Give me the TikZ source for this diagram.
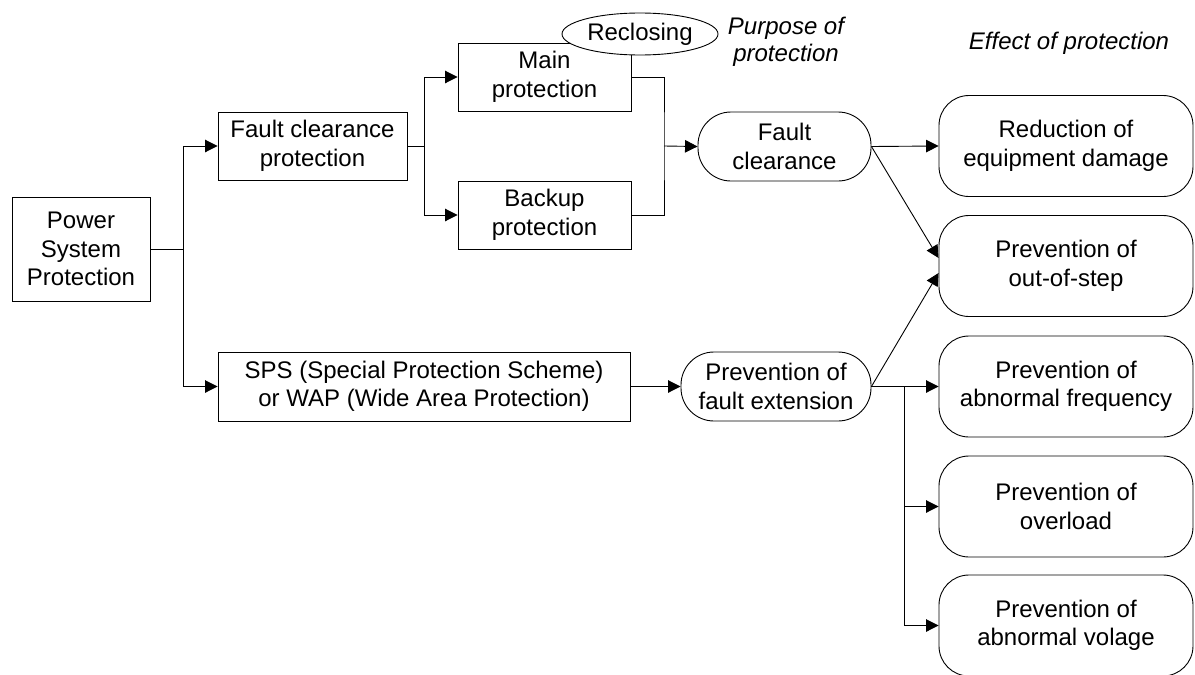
\documentclass[tikz,border=0pt]{standalone}
\usepackage{fontspec}
\setmainfont{Liberation Sans}
\usetikzlibrary{arrows.meta,shapes.geometric}
\begin{document}
\begin{tikzpicture}[x=1pt,y=-1pt,
  every node/.style={font=\fontsize{24}{28.5}\selectfont, align=center, inner sep=0pt},
  box/.style={draw, line width=0.9pt, rectangle},
  pill/.style={draw, line width=0.9pt, rectangle, rounded corners=33pt},
  effect/.style={draw, line width=0.9pt, rectangle, rounded corners=30pt,
                 minimum width=254pt, minimum height=101pt},
  note/.style={font=\itshape\fontsize{24}{27.5}\selectfont},
  link/.style={line width=0.9pt},
  arr/.style={link, -{Triangle[length=12.5pt,width=12.5pt]}}
]
\useasboundingbox (0,0) rectangle (1195,675);

% left side: root and the two protection branches
\node[box, minimum width=138pt, minimum height=104pt] (psp) at (81,249) {Power\\System\\Protection};
\node[box, minimum width=189pt, minimum height=68pt] (fcp) at (312.5,146) {Fault clearance\\protection};
\node[box, minimum width=412pt, minimum height=69pt] (sps) at (424,386.5)
  {SPS (Special Protection Scheme)\\or WAP (Wide Area Protection)};

% main and backup protection
\node[box, minimum width=173pt, minimum height=68pt] (main) at (544.5,77) {Main\\protection};
\node[box, minimum width=173pt, minimum height=68pt] (backup) at (544.5,215) {Backup\\protection};
\node[draw, line width=0.9pt, ellipse, fill=white, minimum width=156pt, minimum height=42pt]
  (reclose) at (640,34) {Reclosing};

% purposes
\node[note] (purpose) at (786,42) {Purpose of\\protection};
\node[pill, minimum width=173pt, minimum height=69pt] (fc) at (784.5,146.5) {Fault\\clearance};
\node[pill, minimum width=190pt, minimum height=69pt] (pfe) at (776,386.5) {Prevention of\\fault extension};

% effects
\node[note] (effect) at (1069,43) {Effect of protection};
\node[effect] (damage) at (1066,146) {Reduction of\\equipment damage};
\node[effect] (oos) at (1066,266) {Prevention of\\out-of-step};
\node[effect] (freq) at (1066,386.5) {Prevention of\\abnormal frequency};
\node[effect] (overload) at (1066,506.5) {Prevention of\\overload};
\node[effect] (volage) at (1066,625.5) {Prevention of\\abnormal volage};

% junction points
\coordinate (j1) at (183,249);
\coordinate (j2) at (424,146);
\coordinate (j3) at (664,146);
\coordinate (j4) at (904,386.5);

% connectors
\draw[link] (psp.east) -- (j1);
\draw[arr] (j1) |- (fcp.west);
\draw[arr] (j1) |- (sps.west);

\draw[link] (fcp.east) -- (j2);
\draw[arr] (j2) |- (main.west);
\draw[arr] (j2) |- (backup.west);

\draw[link] (main.east) -| (j3) |- (backup.east);
\draw[arr] (j3) -- (fc.west);

\draw[arr] (sps.east) -- (pfe.west);

\draw[arr] (fc.east) -- (damage.west);
\draw[arr] (fc.east) -- ([yshift=8pt]oos.west);
\draw[arr] (pfe.east) -- ([yshift=-7pt]oos.west);
\draw[arr] (pfe.east) -- (freq.west);
\draw[arr] (j4) |- (overload.west);
\draw[arr] (j4) |- (volage.west);
\end{tikzpicture}
\end{document}
